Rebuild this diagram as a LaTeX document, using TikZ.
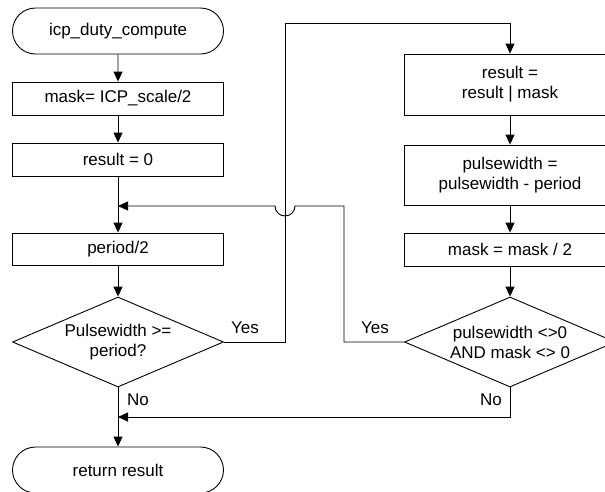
\documentclass[tikz,border=0pt]{standalone}
\usepackage{fontspec}
\setmainfont{Liberation Sans}
\usetikzlibrary{arrows.meta,shapes.geometric,shapes.misc}
\begin{document}
\begin{tikzpicture}[x=1pt,y=-1pt,
  every node/.style={font=\fontsize{17}{20}\selectfont},
  line/.style={draw=black,line width=0.9pt},
  arr/.style={line,-{Triangle[length=10pt,width=9pt]}},
  procbox/.style={line,rectangle,minimum width=211pt,inner sep=0pt,align=center},
  term/.style={line,rounded rectangle,minimum width=211pt,minimum height=46pt,inner sep=0pt},
  decis/.style={line,diamond,minimum width=211pt,minimum height=90pt,inner sep=0pt},
  lbl/.style={inner sep=0pt,align=center}]
\useasboundingbox (0,0) rectangle (605,491);
\clip (0,0) rectangle (605,491);
% left column
\node[term] (start) at (118,31) {icp\_duty\_compute};
\node[procbox,minimum height=33pt] (b1) at (118,98.5) {mask= ICP\_scale/2};
\node[procbox,minimum height=33pt] (b2) at (118,159.5) {result = 0};
\coordinate (merge) at (118,206);
\node[procbox,minimum height=32pt] (b3) at (118,249) {period/2};
\node[decis] (d1) at (118,342) {};
\node[lbl] (d1t) at (d1) {Pulsewidth >=\\period?};
\coordinate (merge2) at (118,417);
\node[term] (end) at (118,470) {return result};
% right column
\node[procbox,minimum height=61pt] (r1) at (510,84.5) {result =\\result | mask};
\node[procbox,minimum height=60pt] (r2) at (510,175) {pulsewidth =\\pulsewidth - period};
\node[procbox,minimum height=33pt] (r3) at (510,249.5) {mask = mask / 2};
\node[decis] (d2) at (510,342) {};
\node[lbl] (d2t) at (d2) {pulsewidth <>0\\AND mask <> 0};
% connector helper points
\coordinate (y1) at (285,342);
\coordinate (y2) at (285,23);
\coordinate (y3) at (510,23);
\coordinate (n1) at (344,342);
\coordinate (n2) at (344,206);
\coordinate (j1) at (295,206);
\coordinate (n3) at (510,417);
% connectors
\draw[arr] (start) -- (b1);
\draw[arr] (b1) -- (b2);
\draw[line] (b2.south) -- (merge);
\draw[arr] (merge) -- (b3.north);
\draw[arr] (b3) -- (d1.north);
\draw[arr] (d1.south) -- (end.north);
\draw[line] (d1.east) -- (y1) -- (y2) -- (y3);
\draw[arr] (y3) -- (r1.north);
\draw[arr] (r1) -- (r2);
\draw[arr] (r2) -- (r3);
\draw[arr] (r3) -- (d2.north);
\draw[arr] (d2.west) -- (n1) -- (n2) -- (j1) arc[start angle=0,end angle=180,radius=10] -- (merge);
\draw[arr] (d2.south) -- (n3) -- (merge2);
% labels
\node[lbl] (yes1) at (245,328) {Yes};
\node[lbl] (yes2) at (375,328) {Yes};
\node[lbl] (no1) at (138,400) {No};
\node[lbl] (no2) at (491,400) {No};
\end{tikzpicture}
\end{document}
